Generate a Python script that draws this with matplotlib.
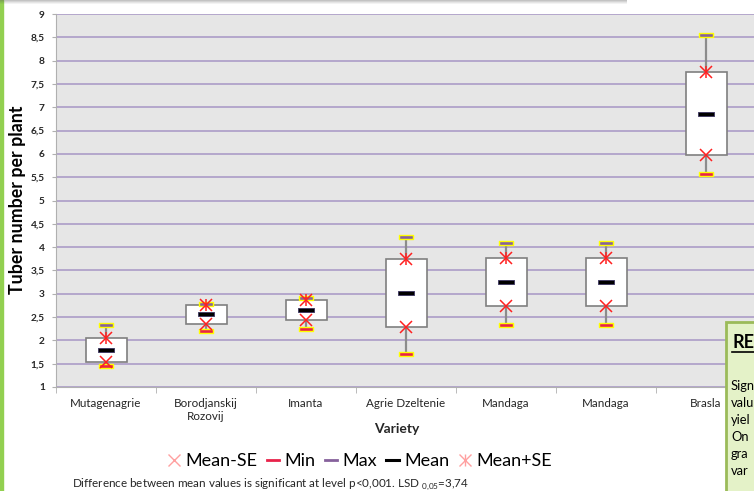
"""Tuber number per plant by variety: mean, mean +/- SE, min and max."""

import matplotlib

matplotlib.use("Agg")
import matplotlib.pyplot as plt
from matplotlib.lines import Line2D
from matplotlib.patches import Rectangle
from matplotlib.path import Path
from matplotlib.legend_handler import HandlerTuple

plt.rcParams["font.family"] = ["Lato", "DejaVu Sans"]

VARIETIES = ["Mutagenagrie", "Borodjanskij\nRozovij", "Imanta", "Agrie Dzeltenie",
             "Mandaga", "Mandaga", "Brasla"]
MEAN = [1.80, 2.56, 2.65, 3.01, 3.25, 3.25, 6.86]
MEAN_MINUS_SE = [1.53, 2.35, 2.43, 2.29, 2.73, 2.73, 5.98]
MEAN_PLUS_SE = [2.06, 2.75, 2.87, 3.75, 3.77, 3.77, 7.75]
MIN_VALUES = [1.46, 2.20, 2.24, 1.71, 2.33, 2.33, 5.57]
MAX_VALUES = [2.33, 2.78, 2.90, 4.22, 4.09, 4.09, 8.55]
Y_TICKS = [1, 1.5, 2, 2.5, 3, 3.5, 4, 4.5, 5, 5.5, 6, 6.5, 7, 7.5, 8, 8.5, 9]

W, H = 754, 491
DASH = Path([(-1, -0.22), (1, -0.22), (1, 0.22), (-1, 0.22), (-1, -0.22)],
            [Path.MOVETO, Path.LINETO, Path.LINETO, Path.LINETO, Path.CLOSEPOLY])

fig = plt.figure(figsize=(W / 100, H / 100), dpi=100)
ax = fig.add_axes([56 / W, (H - 387) / H, 700 / W, 373 / H])
ax.set_facecolor("#e6e6e6")

x = list(range(len(VARIETIES)))
heights = [hi - lo for hi, lo in zip(MEAN_PLUS_SE, MEAN_MINUS_SE)]

ax.vlines(x, MIN_VALUES, MAX_VALUES, color="#8c8c8c", lw=1.6, zorder=2)
ax.bar(x, heights, bottom=MEAN_MINUS_SE, width=0.41, color="white",
       edgecolor="#7f7f7f", lw=1.2, zorder=3)
ax.plot(x, MIN_VALUES, ls="none", marker=DASH, ms=10.5, mfc="#e8224a",
        mec="#ffff00", mew=1.0, zorder=4)
ax.plot(x, MAX_VALUES, ls="none", marker=DASH, ms=10.5, mfc="#86619c",
        mec="#ffff00", mew=1.0, zorder=4)
ax.plot(x, MEAN, ls="none", marker=DASH, ms=12, mfc="black", mec="#3c3460",
        mew=0.6, zorder=5)
ax.plot(x, MEAN_MINUS_SE, ls="none", marker="x", ms=8, color="#ff2020",
        mew=1.1, zorder=6)
ax.plot(x, MEAN_PLUS_SE, ls="none", marker="x", ms=8, color="#ff2020",
        mew=1.1, zorder=6)
ax.plot(x, MEAN_PLUS_SE, ls="none", marker="|", ms=8, color="#ff2020",
        mew=1.1, zorder=6)

ax.set_xlim(-0.5, len(VARIETIES) - 0.5)
ax.set_ylim(1, 9)
ax.set_yticks(Y_TICKS)
ax.set_yticklabels([f"{t:g}".replace(".", ",") for t in Y_TICKS],
                   fontsize=7.3, fontweight="bold", color="#262626")
ax.set_xticks(x)
ax.set_xticklabels(VARIETIES, fontsize=8.4, color="#262626")
ax.set_xticks([i + 0.5 for i in range(-1, len(VARIETIES))], minor=True)
ax.tick_params(axis="x", which="major", length=0, pad=8)
ax.tick_params(axis="x", which="minor", length=4, color="#b0b0b0")
ax.tick_params(axis="y", length=3, color="#b0b0b0", pad=5)
ax.grid(axis="y", color="#b4a7cc", lw=1.4, zorder=0)
ax.set_axisbelow(True)
for side in ("top", "right"):
    ax.spines[side].set_visible(False)
for side in ("left", "bottom"):
    ax.spines[side].set_color("#b0b0b0")

fig.text(18 / W, 1 - 200 / H, "Tuber number per plant", rotation=90,
         ha="center", va="center", fontsize=12.8, fontweight="bold")
fig.text(397 / W, 1 - 429 / H, "Variety", ha="center", va="center",
         fontsize=10, fontweight="bold", color="#262626")

handles = [
    Line2D([], [], ls="none", marker="x", ms=9, color="#ffa0a0", mew=1.0),
    Line2D([], [], color="#e8224a", lw=2),
    Line2D([], [], color="#86619c", lw=2),
    Line2D([], [], color="black", lw=2.2),
    (Line2D([], [], ls="none", marker="x", ms=9, color="#ffa0a0", mew=1.0),
     Line2D([], [], ls="none", marker="|", ms=9, color="#ffa0a0", mew=1.0)),
]
fig.legend(handles, ["Mean-SE", "Min", "Max", "Mean", "Mean+SE"],
           loc="center", bbox_to_anchor=(360 / W, 1 - 461 / H), ncol=5,
           frameon=False, fontsize=13, handlelength=0.7, handletextpad=0.3,
           columnspacing=0.5, handler_map={tuple: HandlerTuple(ndivide=1)})

fig.text(72 / W, 1 - 484 / H,
         r"Difference between mean values is significant at level p<0,001. "
         r"LSD $_\mathregular{0{,}05}$=3,74",
         ha="left", va="center", fontsize=8.4, color="#262626")

# page decorations: green left edge, shadow of the box above, side note box
fig.patches.append(Rectangle((0, 0), 3 / W, 1, transform=fig.transFigure,
                             color="#92d050", zorder=10))
for i, alpha in enumerate([0.35, 0.25, 0.15, 0.07]):
    fig.patches.append(Rectangle((0, 1 - (i + 1) / H), 627 / W, 1 / H,
                                 transform=fig.transFigure, color="#555555",
                                 alpha=alpha, lw=0, zorder=10))
fig.patches.append(Rectangle((726 / W, -0.1), 0.2, 1 - 322 / H + 0.1,
                             transform=fig.transFigure, facecolor="#e4f2c8",
                             edgecolor="#9bbb59", lw=2, zorder=10))
fig.text(732 / W, 1 - 342 / H, "RE", fontsize=13, fontweight="bold",
         va="center", ha="left", zorder=11)
fig.lines.append(Line2D([732 / W, 1], [1 - 352 / H] * 2, transform=fig.transFigure,
                        color="black", lw=1.2, zorder=11))
for j, word in enumerate(["Sign", "valu", "yiel", "On", "gra", "var"]):
    fig.text(731 / W, 1 - (386 + 17 * j) / H, word, fontsize=9.3,
             va="center", ha="left", zorder=11)

fig.savefig("out.png", dpi=100)
